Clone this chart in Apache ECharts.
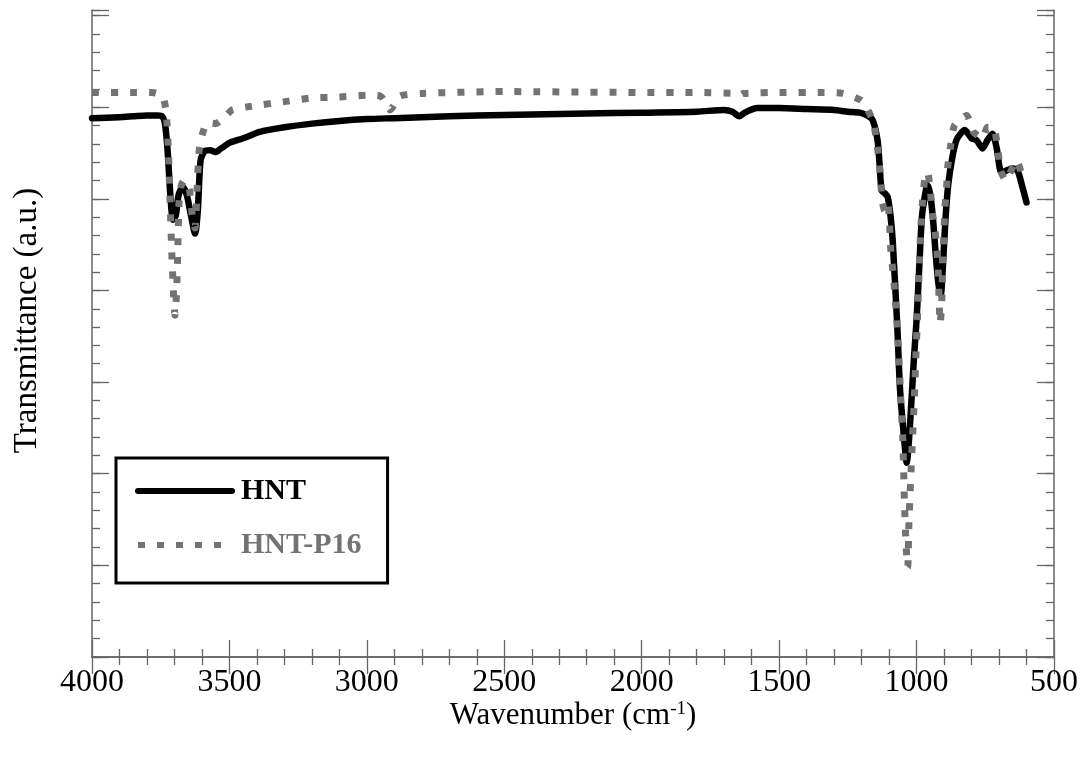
<!DOCTYPE html>
<html>
<head>
<meta charset="utf-8">
<script src="https://cdn.jsdelivr.net/npm/echarts@6/dist/echarts.min.js"></script>
<style>html,body{margin:0;padding:0;background:#fff}#c{width:1089px;height:758px}</style>
</head>
<body>
<div id="c"></div>
<script>
// ---- data ----
const seriesNames = ['HNT', 'HNT-P16'];
const xTickLabels = [4000, 3500, 3000, 2500, 2000, 1500, 1000, 500];

const hntWavenumber = [4000,3900,3850,3800,3760,3745,3735,3725,3715,3705,3695,3685,3670,3655,3640,3625,3615,3605,3590,3570,3550,3530,3500,3450,3390,3300,3200,3100,3000,2900,2800,2600,2400,2200,2000,1800,1700,1670,1645,1625,1580,1500,1400,1300,1250,1207,1180,1160,1142,1135,1127,1116,1105,1095,1087,1070,1060,1045,1036,1025,1010,1000,990,980,965,960,950,940,930,920,912,905,895,885,870,855,840,825,810,800,782,760,742,724,709,691,673,651,633,615,600];
const hntTransmittance = [5.88,5.89,5.90,5.91,5.91,5.90,5.83,5.53,5.04,4.77,4.82,5.04,5.13,5.04,4.82,4.62,4.87,5.42,5.52,5.53,5.51,5.55,5.61,5.66,5.73,5.78,5.82,5.85,5.87,5.88,5.89,5.91,5.92,5.93,5.94,5.95,5.97,5.95,5.90,5.94,5.99,5.99,5.98,5.97,5.95,5.94,5.91,5.86,5.64,5.39,5.09,5.06,5.02,4.82,4.55,3.60,2.91,2.37,2.12,2.48,3.24,3.68,4.27,4.82,5.11,5.15,5.04,4.77,4.38,4.06,3.95,4.22,4.77,5.15,5.45,5.64,5.71,5.75,5.70,5.66,5.64,5.55,5.64,5.71,5.56,5.28,5.31,5.33,5.31,5.13,4.96];

const p16Wavenumber = [4000,3850,3780,3755,3740,3730,3722,3716,3710,3704,3698,3692,3688,3683,3675,3665,3655,3645,3635,3625,3618,3610,3600,3580,3550,3520,3490,3420,3300,3200,3100,3000,2950,2915,2880,2800,2500,2000,1800,1660,1645,1630,1500,1350,1270,1200,1160,1145,1135,1130,1125,1116,1105,1098,1095,1085,1075,1065,1058,1050,1044,1038,1032,1028,1022,1015,1008,1002,997,990,985,978,970,960,950,942,930,922,918,914,908,905,900,898,891,887,876,862,818,793,760,742,720,705,694,676,636,615];
const p16Transmittance = [6.16,6.16,6.16,6.14,6.10,5.94,5.53,4.98,4.44,4.00,3.73,4.00,4.44,4.98,5.15,5.20,5.18,5.09,4.82,4.68,5.09,5.53,5.69,5.83,5.82,5.88,5.97,6.01,6.06,6.10,6.11,6.13,6.12,5.97,6.12,6.15,6.17,6.16,6.16,6.15,6.13,6.15,6.16,6.16,6.15,6.07,5.86,5.62,5.37,5.17,4.98,4.87,4.95,4.73,4.49,4.17,3.81,3.32,2.84,2.37,1.68,1.20,0.98,1.44,1.90,2.37,2.82,3.32,3.68,4.27,4.66,4.98,5.22,5.29,5.09,4.84,4.58,4.27,3.89,3.64,3.89,4.33,4.66,4.87,5.11,5.34,5.58,5.80,5.91,5.73,5.66,5.78,5.78,5.55,5.31,5.20,5.42,5.23];

// ---- chart ----
const SERIF = "'Liberation Serif', 'Times New Roman', serif";
const AXIS_COLOR = '#666';
const zip = (xs, ys) => xs.map((x, i) => [x, ys[i]]);

const chart = echarts.init(document.getElementById('c'), null, {renderer: 'canvas'});

const xBase = {
  type: 'value', min: 500, max: 4000, interval: 500, inverse: true,
  axisLine: {show: true, lineStyle: {color: AXIS_COLOR, width: 1.5}},
  axisTick: {show: true, inside: true, length: 17, lineStyle: {color: AXIS_COLOR, width: 1.3}},
  minorTick: {show: true, splitNumber: 5, length: 8, lineStyle: {color: AXIS_COLOR, width: 1.3}},
  splitLine: {show: false}
};
const yMajor = (pos, showLine) => ({
  type: 'value', position: pos, min: 0, max: 7.06, interval: 1,
  axisLine: {show: showLine, onZero: false, lineStyle: {color: AXIS_COLOR, width: 1.5}},
  axisTick: {show: true, inside: true, length: 17, lineStyle: {color: AXIS_COLOR, width: 1.3}},
  axisLabel: {show: false}, splitLine: {show: false}
});
const yMinor = (pos) => ({
  type: 'value', position: pos, min: 0, max: 7.06, interval: 0.2,
  axisLine: {show: false},
  axisTick: {show: true, inside: true, length: 8, lineStyle: {color: AXIS_COLOR, width: 1.3}},
  axisLabel: {show: false}, splitLine: {show: false}
});

chart.setOption({
  animation: false,
  backgroundColor: '#fff',
  grid: {left: 92, right: 35, top: 10, bottom: 101, containLabel: false},
  xAxis: [
    Object.assign({}, xBase, {
      position: 'bottom',
      axisLabel: {show: true, margin: 10, color: '#000', fontFamily: SERIF, fontSize: 32,
        formatter: v => (xTickLabels.indexOf(v) >= 0 ? String(v) : '')},
      name: 'Wavenumber (cm{sup|-1})', nameLocation: 'middle', nameGap: 43, nameMoveOverlap: false,
      nameTextStyle: {color: '#000', fontFamily: SERIF, fontSize: 31,
        rich: {sup: {fontFamily: SERIF, fontSize: 19, color: '#000', verticalAlign: 'top', padding: [0, 0, 12, 0]}}}
    }),
    Object.assign({}, xBase, {position: 'top', axisLabel: {show: false}})
  ],
  yAxis: [
    Object.assign(yMajor('left', true), {
      name: 'Transmittance (a.u.)', nameLocation: 'middle', nameGap: 48, nameRotate: 90,
      nameTextStyle: {color: '#000', fontFamily: SERIF, fontSize: 33, padding: [0, 0, 0, 26]}
    }),
    yMinor('left'),
    yMajor('right', true),
    yMinor('right')
  ],
  legend: {
    orient: 'vertical', left: 116, top: 458,
    itemWidth: 94, itemHeight: 30, itemGap: 24,
    padding: [18, 26, 23, 19],
    borderColor: '#000', borderWidth: 3, backgroundColor: '#fff',
    selectedMode: false,
    lineStyle: {width: 6},
    itemStyle: {opacity: 0, color: 'rgba(0,0,0,0)', borderWidth: 0},
    textStyle: {fontFamily: SERIF, fontSize: 30, fontWeight: 'bold', padding: [0, 0, 0, 4]},
    data: [
      {name: seriesNames[0], textStyle: {color: '#000'}},
      {name: seriesNames[1], textStyle: {color: '#737373'}}
    ]
  },
  series: [
    {
      name: seriesNames[0], type: 'line', xAxisIndex: 0, yAxisIndex: 0,
      data: zip(hntWavenumber, hntTransmittance),
      showSymbol: false, symbol: 'none', smooth: 0.25,
      lineStyle: {color: '#000', width: 6.5, cap: 'round', join: 'round'},
      itemStyle: {color: '#000'}
    },
    {
      name: seriesNames[1], type: 'line', xAxisIndex: 0, yAxisIndex: 0,
      data: zip(p16Wavenumber, p16Transmittance),
      showSymbol: false, symbol: 'none', smooth: 0.2,
      lineStyle: {color: '#737373', width: 7, type: [7, 12], cap: 'butt'},
      itemStyle: {color: '#737373'}
    }
  ]
});
</script>
</body>
</html>
